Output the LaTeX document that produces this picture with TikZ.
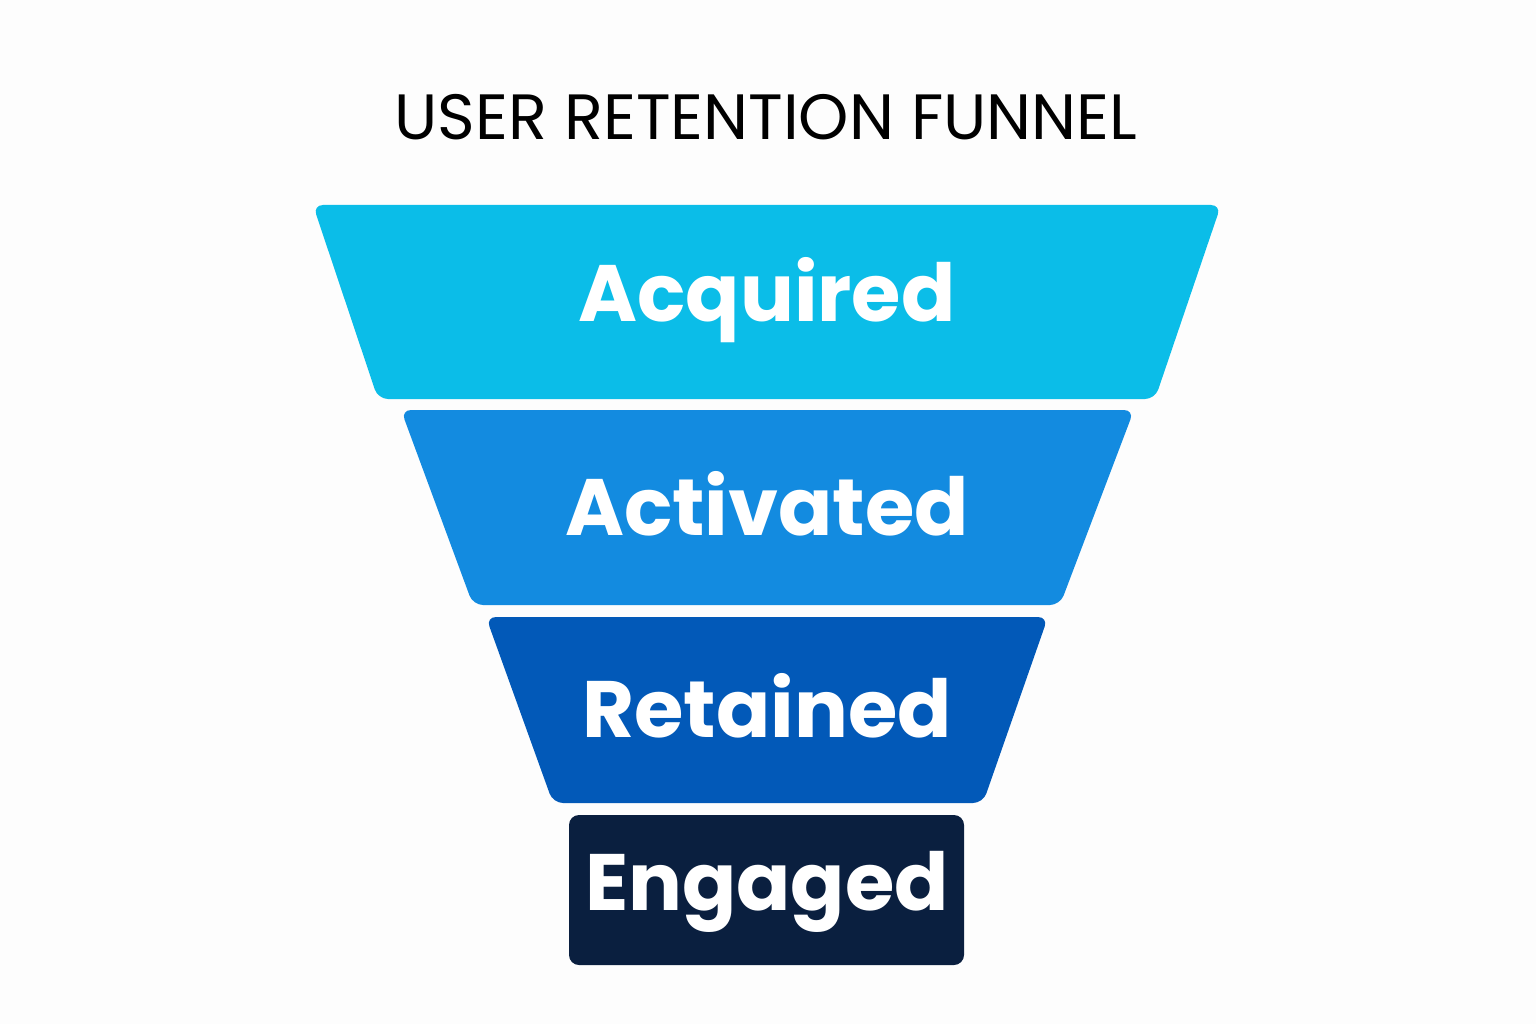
\documentclass[tikz,border=0pt]{standalone}
\usepackage{fontspec}
\setmainfont{Poppins}
\begin{document}
\begin{tikzpicture}[x=1pt,y=-1pt,
  stage/.style={rounded corners=10pt},
  lab/.style={text=white,font=\fontsize{80}{80}\selectfont\bfseries}]
\useasboundingbox[fill=white!97!gray!60] (0,0) rectangle (1536,1024);
\definecolor{cA}{HTML}{0BBDE8}\definecolor{cB}{HTML}{138BE0}
\definecolor{cC}{HTML}{0259B8}\definecolor{cD}{HTML}{0A1F3F}
\node (title) at (766,117) {\fontsize{64}{64}\selectfont USER RETENTION FUNNEL};
\fill[cA,stage] (313,205) -- (1221,205) -- (1155,399) -- (378,399) -- cycle;
\fill[cB,stage] (401,410) -- (1134,410) -- (1060,605) -- (473,605) -- cycle;
\fill[cC,stage] (486,617) -- (1048,617) -- (983,803) -- (553,803) -- cycle;
\fill[cD,stage] (569,815) rectangle (964,965);
\node[lab] (a) at (767,300) {Acquired};
\node[lab] (b) at (767,504) {Activated};
\node[lab] (c) at (767,706) {Retained};
\node[lab] (d) at (767,892) {Engaged};
\end{tikzpicture}
\end{document}
